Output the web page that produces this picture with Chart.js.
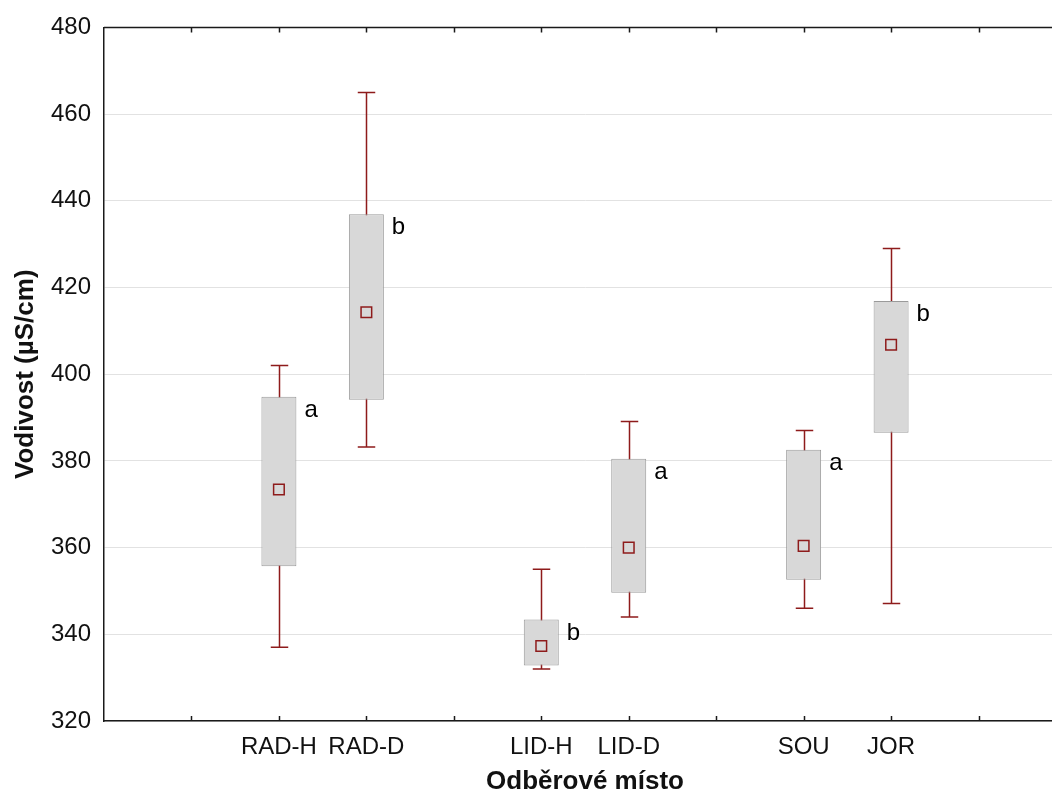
<!DOCTYPE html>
<html>
<head>
<meta charset="utf-8">
<script src="https://cdn.jsdelivr.net/npm/chart.js@4/dist/chart.umd.min.js"></script>
<style>
  html, body { margin: 0; padding: 0; background: #fff; overflow: hidden; }
  /* plocha grafu přesahuje okno, pravý okraj je oříznutý jako v originálu */
  #wrap { width: 1078px; height: 800px; }
</style>
</head>
<body>
<div id="wrap"><canvas id="c"></canvas></div>
<script>
// osa x: prázdné pozice oddělují dvojice lokalit
const xSlots = ['', '', 'RAD-H', 'RAD-D', '', 'LID-H', 'LID-D', '', 'SOU', 'JOR', '', ''];
const sites = ['RAD-H', 'RAD-D', 'LID-H', 'LID-D', 'SOU', 'JOR'];

// hodnoty (µS/cm)
const means     = [373.4, 414.3, 337.3, 360.0, 360.4, 406.8];
const boxLow    = [355.7, 394.1, 332.8, 349.6, 352.6, 386.5];
const boxHigh   = [394.8, 436.9, 343.4, 380.5, 382.6, 416.9];
const whiskLow  = [337.0, 383.2, 332.0, 344.0, 346.0, 347.1];
const whiskHigh = [402.0, 465.0, 355.0, 389.1, 387.0, 429.0];
const groups    = ['a', 'b', 'b', 'a', 'a', 'b'];

const yTicks = [320, 340, 360, 380, 400, 420, 440, 460, 480];

const RED = '#8e1b1b';
const AXIS = '#1a1a1a';
const FONT = "'Liberation Sans', Arial, sans-serif";

// vousy pod krabicemi
const whiskers = {
  id: 'whiskers',
  beforeDatasetsDraw(chart) {
    const { ctx, scales: { x, y } } = chart;
    ctx.save();
    ctx.strokeStyle = RED;
    ctx.lineWidth = 1.5;
    sites.forEach((s, i) => {
      const px = Math.round(x.getPixelForValue(xSlots.indexOf(s))) + 0.5;
      const cap = (x.getPixelForValue(1) - x.getPixelForValue(0)) * 0.1;
      const top = y.getPixelForValue(whiskHigh[i]);
      const bot = y.getPixelForValue(whiskLow[i]);
      ctx.beginPath();
      ctx.moveTo(px, top); ctx.lineTo(px, bot);
      ctx.moveTo(px - cap, top); ctx.lineTo(px + cap, top);
      ctx.moveTo(px - cap, bot); ctx.lineTo(px + cap, bot);
      ctx.stroke();
    });
    ctx.restore();
  }
};

// horní rámeček, dovnitř mířící značky a písmena skupin
const frame = {
  id: 'frame',
  afterDraw(chart) {
    const { ctx, chartArea: a, scales: { x, y } } = chart;
    ctx.save();
    ctx.strokeStyle = AXIS;
    ctx.lineWidth = 1.5;
    ctx.beginPath();
    ctx.moveTo(a.left, a.top); ctx.lineTo(a.right, a.top);
    for (let i = 1; i < xSlots.length - 1; i++) {
      const px = Math.round(x.getPixelForValue(i)) + 0.5;
      ctx.moveTo(px, a.top); ctx.lineTo(px, a.top + 5);
      ctx.moveTo(px, a.bottom); ctx.lineTo(px, a.bottom - 5);
    }
    ctx.stroke();

    ctx.fillStyle = '#000';
    ctx.font = '24px ' + FONT;
    ctx.textAlign = 'left';
    ctx.textBaseline = 'alphabetic';
    const meta = chart.getDatasetMeta(0);
    sites.forEach((s, i) => {
      const bar = meta.data[i];
      const px = bar.x + bar.width / 2 + 8;
      const py = y.getPixelForValue(boxHigh[i]) + 20;
      ctx.fillText(groups[i], px, py);
    });
    ctx.restore();
  }
};

new Chart(document.getElementById('c'), {
  type: 'bar',
  data: {
    labels: xSlots,
    datasets: [
      {
        label: 'box',
        data: sites.map((s, i) => ({ x: s, y: [boxLow[i], boxHigh[i]] })),
        backgroundColor: '#d8d8d8',
        borderColor: '#9a9a9a',
        borderWidth: 1,
        borderSkipped: false,
        barPercentage: 0.4,
        categoryPercentage: 1,
        order: 2
      },
      {
        type: 'line',
        label: 'mean',
        data: sites.map((s, i) => ({ x: s, y: means[i] })),
        showLine: false,
        pointStyle: 'rect',
        pointRadius: 7.5,
        pointBorderWidth: 1.5,
        pointBorderColor: RED,
        pointBackgroundColor: 'rgba(0,0,0,0)',
        order: 1
      }
    ]
  },
  options: {
    responsive: true,
    maintainAspectRatio: false,
    animation: false,
    events: [],
    layout: { padding: { top: 26, right: 0, left: 0, bottom: 0 } },
    plugins: {
      legend: { display: false },
      tooltip: { enabled: false }
    },
    scales: {
      x: {
        type: 'category',
        offset: false,
        grid: { display: false, drawTicks: false },
        border: { display: true, color: AXIS, width: 1.5 },
        ticks: {
          autoSkip: false,
          maxRotation: 0,
          padding: 12,
          color: '#111',
          font: { family: FONT, size: 24 },
          callback: (v, i) => xSlots[i]
        },
        title: {
          display: true,
          text: 'Odběrové místo',
          color: '#111',
          font: { family: FONT, size: 26, weight: 'bold' },
          padding: { top: 0, bottom: 3 }
        },
        afterFit: s => { s.height = 79; }
      },
      y: {
        min: 320,
        max: 480,
        afterBuildTicks: s => { s.ticks = yTicks.map(v => ({ value: v })); },
        grid: { color: '#e2e2e2', lineWidth: 1, drawTicks: false },
        border: { display: true, color: AXIS, width: 1.5 },
        ticks: {
          padding: 13,
          color: '#111',
          font: { family: FONT, size: 24 }
        },
        title: {
          display: true,
          text: 'Vodivost (µS/cm)',
          color: '#111',
          font: { family: FONT, size: 26, weight: 'bold' },
          padding: { top: 10, bottom: 0 }
        },
        afterFit: s => { s.width = 104; }
      }
    }
  },
  plugins: [whiskers, frame]
});
</script>
</body>
</html>
